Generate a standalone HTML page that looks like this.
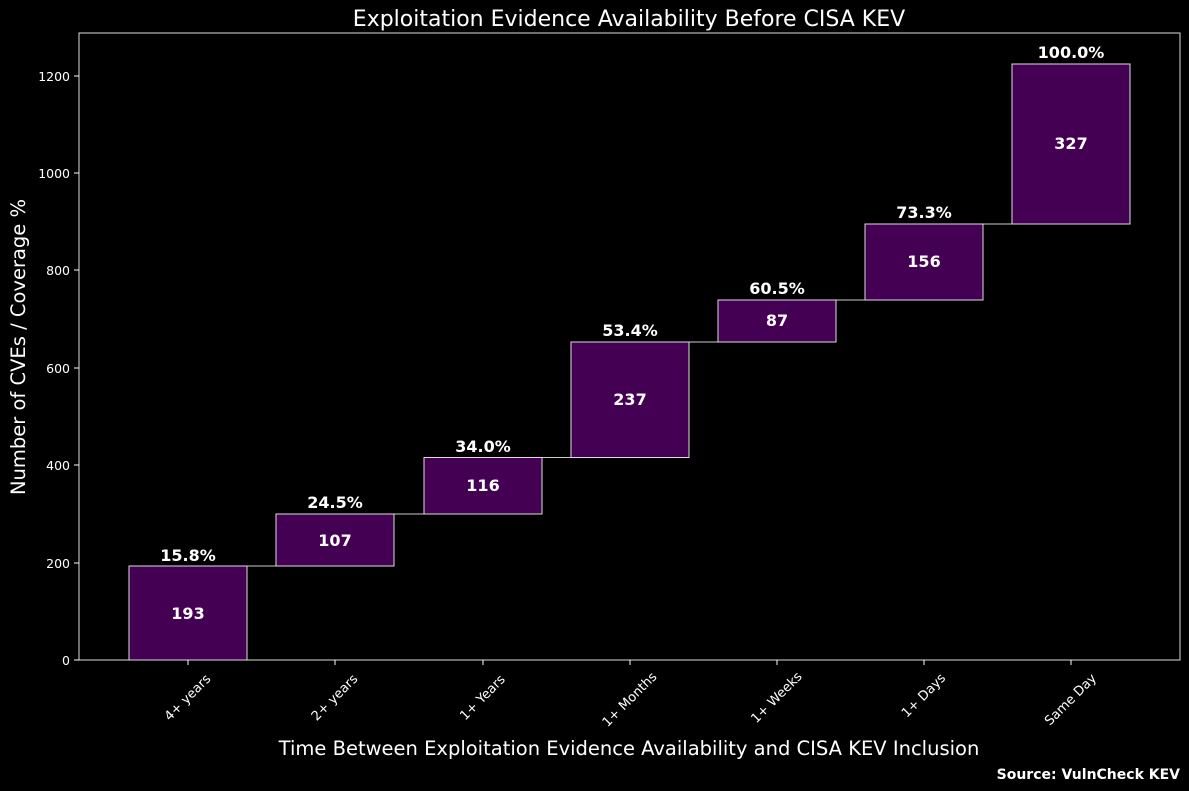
<!DOCTYPE html>
<html><head><meta charset="utf-8"><style>body{margin:0;background:#000}svg{display:block}</style></head>
<body>
<svg width="1189" height="791" xmlns="http://www.w3.org/2000/svg" font-family="DejaVu Sans, Liberation Sans, sans-serif">
<rect width="1189" height="791" fill="#000"/>
<g stroke="#ccc" stroke-width="1">
<line x1="188" y1="566" x2="335" y2="566"/>
<line x1="335" y1="514" x2="483" y2="514"/>
<line x1="483" y1="457.5" x2="630" y2="457.5"/>
<line x1="630" y1="342" x2="777" y2="342"/>
<line x1="777" y1="300" x2="924" y2="300"/>
<line x1="924" y1="224" x2="1071" y2="224"/>
</g>
<g fill="#440154" stroke="#ddd" stroke-width="1">
<rect x="129" y="566" width="118" height="94"/>
<rect x="276" y="514" width="118" height="52"/>
<rect x="424" y="457.5" width="118" height="56.5"/>
<rect x="571" y="342" width="118" height="115.5"/>
<rect x="718" y="300" width="118" height="42"/>
<rect x="865" y="224" width="118" height="76"/>
<rect x="1012" y="64" width="118" height="160"/>
</g>
<rect x="79" y="33" width="1101" height="627" fill="none" stroke="#ddd" stroke-width="1"/>
<g fill="#fff" font-weight="bold" font-size="16" text-anchor="middle">
<text x="188" y="619">193</text><text x="335" y="546">107</text><text x="483" y="491">116</text>
<text x="630" y="405">237</text><text x="777" y="326">87</text><text x="924" y="267">156</text><text x="1071" y="149">327</text>
<text x="188" y="561">15.8%</text><text x="335" y="508">24.5%</text><text x="483" y="452">34.0%</text>
<text x="630" y="336">53.4%</text><text x="777" y="294">60.5%</text><text x="924" y="218">73.3%</text><text x="1071" y="58">100.0%</text>
</g>
<g stroke="#fff"><line x1="74" y1="660" x2="79" y2="660"/><line x1="74" y1="563" x2="79" y2="563"/><line x1="74" y1="465" x2="79" y2="465"/><line x1="74" y1="368" x2="79" y2="368"/><line x1="74" y1="270" x2="79" y2="270"/><line x1="74" y1="173" x2="79" y2="173"/><line x1="74" y1="76" x2="79" y2="76"/>
<line x1="188" y1="660" x2="188" y2="665"/><line x1="335" y1="660" x2="335" y2="665"/><line x1="483" y1="660" x2="483" y2="665"/><line x1="630" y1="660" x2="630" y2="665"/><line x1="777" y1="660" x2="777" y2="665"/><line x1="924" y1="660" x2="924" y2="665"/><line x1="1071" y1="660" x2="1071" y2="665"/></g>
<g fill="#fff" font-size="12.5" text-anchor="end">
<text x="70" y="665">0</text><text x="70" y="568">200</text><text x="70" y="470">400</text><text x="70" y="373">600</text><text x="70" y="275">800</text><text x="70" y="178">1000</text><text x="70" y="81">1200</text>
</g>
<g fill="#fff" font-size="13" text-anchor="middle" dominant-baseline="middle">
<text transform="translate(188,698) rotate(-45)">4+ years</text>
<text transform="translate(335,698) rotate(-45)">2+ years</text>
<text transform="translate(483,698) rotate(-45)">1+ Years</text>
<text transform="translate(630,700) rotate(-45)">1+ Months</text>
<text transform="translate(777,698) rotate(-45)">1+ Weeks</text>
<text transform="translate(924,696) rotate(-45)">1+ Days</text>
<text transform="translate(1071,700) rotate(-45)">Same Day</text>
</g>
<text x="629" y="26" fill="#fff" font-size="22" text-anchor="middle">Exploitation Evidence Availability Before CISA KEV</text>
<text x="629" y="755" fill="#fff" font-size="19.5" text-anchor="middle">Time Between Exploitation Evidence Availability and CISA KEV Inclusion</text>
<text transform="translate(25,347) rotate(-90)" fill="#fff" font-size="19.5" text-anchor="middle">Number of CVEs / Coverage %</text>
<text x="1180" y="779" fill="#fff" font-size="14" font-weight="bold" text-anchor="end">Source: VulnCheck KEV</text>
</svg>
</body></html>
